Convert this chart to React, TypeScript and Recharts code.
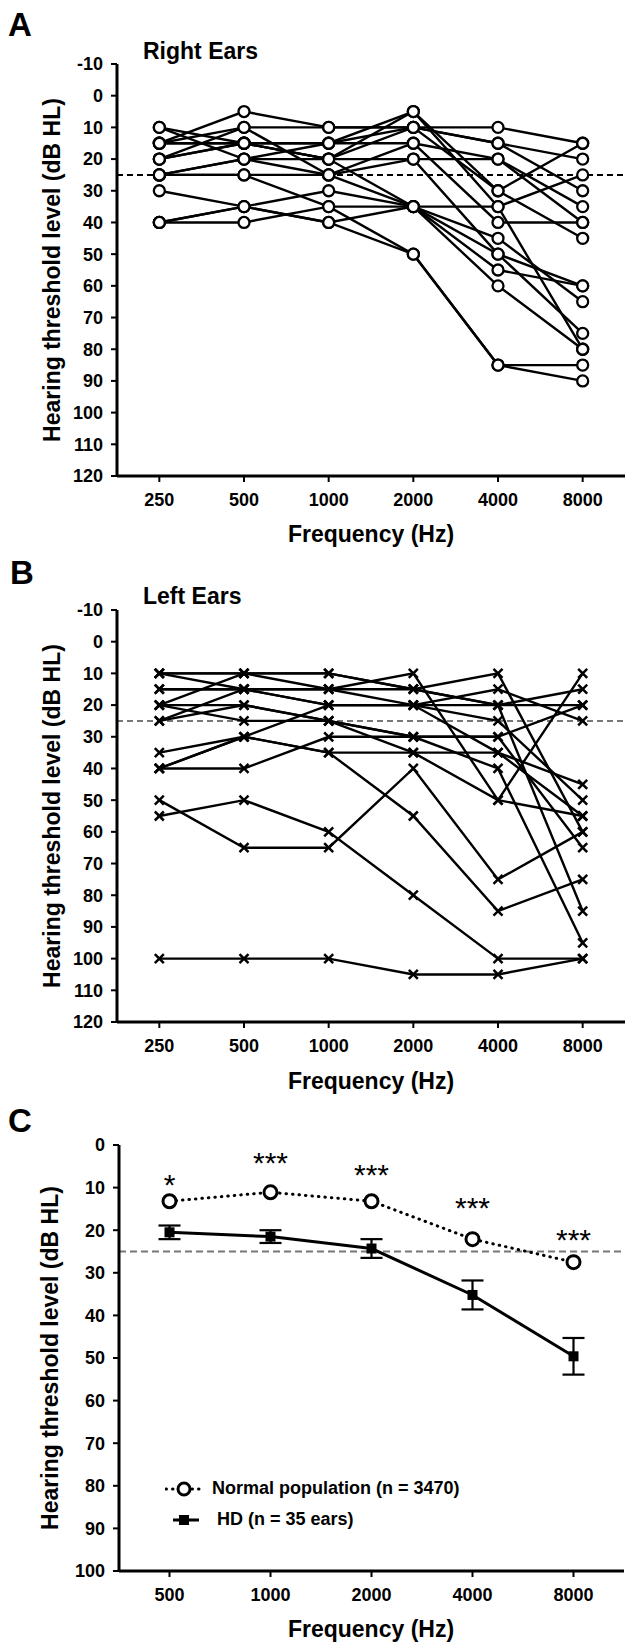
import React from "react";
import { LineChart, Line, XAxis, YAxis, ReferenceLine, ErrorBar, LabelList, Legend } from "recharts";

const FONT = '"Liberation Sans", Arial, Helvetica, sans-serif';

// panels A and B: audiogram frequencies
const freqsAB = ["250", "500", "1000", "2000", "4000", "8000"];
// panel C frequencies
const freqsC = ["500", "1000", "2000", "4000", "8000"];

// right ears, dB HL at 250..8000 Hz (one row per ear)
const rightEars = [
  [15, 5, 10, 10, 10, 15],
  [10, 15, 20, 5, 35, 80],
  [10, 20, 15, 10, 15, 20],
  [15, 15, 15, 15, 20, 40],
  [20, 10, 10, 10, 30, 15],
  [25, 25, 25, 15, 40, 40],
  [25, 20, 20, 20, 50, 60],
  [30, 35, 30, 35, 45, 65],
  [40, 35, 40, 35, 55, 60],
  [40, 40, 35, 35, 35, 25],
  [25, 25, 35, 50, 85, 85],
  [20, 15, 20, 35, 60, 80],
  [15, 10, 25, 35, 50, 75],
  [20, 15, 15, 5, 30, 45],
  [40, 35, 40, 50, 85, 90],
  [25, 20, 25, 20, 20, 35],
  [15, 15, 20, 10, 15, 30],
];

// left ears, dB HL at 250..8000 Hz
const leftEars = [
  [10, 10, 10, 15, 20, 20],
  [10, 15, 20, 20, 35, 55],
  [15, 15, 15, 10, 50, 10],
  [20, 10, 10, 15, 10, 60],
  [20, 25, 25, 30, 30, 20],
  [25, 15, 15, 20, 15, 25],
  [25, 20, 25, 30, 40, 95],
  [35, 30, 20, 20, 20, 15],
  [40, 30, 35, 35, 35, 45],
  [40, 40, 30, 30, 30, 65],
  [50, 65, 65, 40, 75, 60],
  [55, 50, 60, 80, 100, 100],
  [100, 100, 100, 105, 105, 100],
  [15, 15, 20, 20, 25, 50],
  [40, 30, 35, 55, 85, 75],
  [20, 20, 25, 35, 50, 55],
  [10, 10, 15, 15, 20, 85],
];

// panel C
const normalPop = [13.2, 11.1, 13.2, 22.1, 27.5];
const hdMean = [20.5, 21.5, 24.3, 35.2, 49.6];
const hdSem = [1.6, 1.5, 2.2, 3.4, 4.3];
const sigMarks = ["*", "***", "***", "***", "***"];
const sigLevel = [7.7, 2.6, 5.4, 13.1, 20.6];

const yTicksAB = [-10, 0, 10, 20, 30, 40, 50, 60, 70, 80, 90, 100, 110, 120];
const yTicksC = [0, 10, 20, 30, 40, 50, 60, 70, 80, 90, 100];

const tickFont = { fill: "#000", fontSize: 18, fontWeight: "bold", fontFamily: FONT };
const axisLine = { stroke: "#000", strokeWidth: 3 };
const tickLine = { stroke: "#000", strokeWidth: 2 };

function earsTable(ears: number[][]) {
  return freqsAB.map((f, i) => {
    const row: Record<string, number | string> = { idx: i, freq: f };
    ears.forEach((e, k) => {
      row[`e${k}`] = e[i];
    });
    return row;
  });
}

const circleDot = (p: any) => {
  const key = `c-${p.dataKey}-${p.index}`;
  if (p.cx == null || p.cy == null) return <g key={key} />;
  return <circle key={key} cx={p.cx} cy={p.cy} r={5.5} fill="#fff" stroke="#000" strokeWidth={2.3} />;
};

const crossDot = (p: any) => {
  const key = `x-${p.dataKey}-${p.index}`;
  if (p.cx == null || p.cy == null) return <g key={key} />;
  const s = 4.5;
  return (
    <g key={key} stroke="#000" strokeWidth={2.5}>
      <line x1={p.cx - s} y1={p.cy - s} x2={p.cx + s} y2={p.cy + s} />
      <line x1={p.cx - s} y1={p.cy + s} x2={p.cx + s} y2={p.cy - s} />
    </g>
  );
};

const squareDot = (p: any) => {
  const key = `s-${p.index}`;
  if (p.cx == null || p.cy == null) return <g key={key} />;
  return <rect key={key} x={p.cx - 5} y={p.cy - 5} width={10} height={10} fill="#000" />;
};

const renderSig = (p: any) => {
  if (p.x == null || p.y == null) return null;
  return (
    <text x={p.x} y={p.y + 17} textAnchor="middle" fontSize={30} fontFamily={FONT} fill="#000">
      {p.value}
    </text>
  );
};

function EarPanel({ ears, dot, refStroke }: { ears: number[][]; dot: (p: any) => React.ReactElement; refStroke: string }) {
  const data = earsTable(ears);
  return (
    <LineChart width={626} height={545} data={data} margin={{ top: 64, right: 1, bottom: 0, left: 0 }}>
      <XAxis
        type="number"
        dataKey="idx"
        domain={[-0.5, 5.5]}
        ticks={[0, 1, 2, 3, 4, 5]}
        tickFormatter={(v: number) => freqsAB[v]}
        height={69}
        axisLine={axisLine}
        tickLine={tickLine}
        tickSize={6}
        tickMargin={11}
        tick={tickFont}
      />
      <YAxis
        type="number"
        domain={[-10, 120]}
        reversed
        ticks={yTicksAB}
        interval={0}
        width={117}
        axisLine={axisLine}
        tickLine={tickLine}
        tickSize={6}
        tickMargin={8}
        tick={tickFont}
      />
      <ReferenceLine y={25} stroke={refStroke} strokeWidth={2} strokeDasharray="6 4" />
      {ears.map((_, k) => (
        <Line
          key={`l${k}`}
          type="linear"
          dataKey={`e${k}`}
          stroke="#000"
          strokeWidth={2.4}
          dot={false}
          activeDot={false}
          isAnimationActive={false}
        />
      ))}
      {ears.map((_, k) => (
        <Line
          key={`d${k}`}
          type="linear"
          dataKey={`e${k}`}
          stroke="none"
          dot={dot}
          activeDot={false}
          isAnimationActive={false}
        />
      ))}
    </LineChart>
  );
}

const renderLegend = () => (
  <div style={{ fontFamily: FONT, fontSize: 18, fontWeight: "bold", color: "#000" }}>
    <div style={{ display: "flex", alignItems: "center", height: 31 }}>
      <svg width={47} height={20}>
        <line x1={1} y1={10} x2={38} y2={10} stroke="#000" strokeWidth={3} strokeDasharray="0.5 6" strokeLinecap="round" />
        <circle cx={19} cy={10} r={6} fill="#fff" stroke="#000" strokeWidth={3} />
      </svg>
      <span>Normal population (n = 3470)</span>
    </div>
    <div style={{ display: "flex", alignItems: "center", height: 31 }}>
      <svg width={52} height={20}>
        <line x1={8} y1={10} x2={34} y2={10} stroke="#000" strokeWidth={3} />
        <rect x={14} y={5} width={10} height={10} fill="#000" />
      </svg>
      <span>HD (n = 35 ears)</span>
    </div>
  </div>
);

function MeanPanel() {
  const data = freqsC.map((f, i) => ({
    idx: i,
    freq: f,
    normal: normalPop[i],
    hd: hdMean[i],
    hdErr: hdSem[i],
    sig: sigLevel[i],
    sigText: sigMarks[i],
  }));
  return (
    <LineChart width={626} height={554} data={data} margin={{ top: 55, right: 2, bottom: 0, left: 0 }}>
      <XAxis
        type="number"
        dataKey="idx"
        domain={[-0.5, 4.5]}
        ticks={[0, 1, 2, 3, 4]}
        tickFormatter={(v: number) => freqsC[v]}
        height={73}
        axisLine={axisLine}
        tickLine={tickLine}
        tickSize={6}
        tickMargin={11}
        tick={tickFont}
      />
      <YAxis
        type="number"
        domain={[0, 100]}
        reversed
        ticks={yTicksC}
        interval={0}
        width={119}
        axisLine={axisLine}
        tickLine={tickLine}
        tickSize={6}
        tickMargin={8}
        tick={tickFont}
      />
      <ReferenceLine y={25} stroke="#777" strokeWidth={2} strokeDasharray="7 4" />
      <Line
        type="linear"
        dataKey="hd"
        stroke="#000"
        strokeWidth={3}
        dot={squareDot}
        activeDot={false}
        isAnimationActive={false}
      >
        <ErrorBar dataKey="hdErr" width={11} stroke="#000" strokeWidth={2.2} direction="y" />
      </Line>
      <Line
        type="linear"
        dataKey="normal"
        stroke="#000"
        strokeWidth={3}
        strokeDasharray="0.5 6"
        strokeLinecap="round"
        dot={{ r: 6.5, fill: "#fff", stroke: "#000", strokeWidth: 3, strokeDasharray: "none" }}
        activeDot={false}
        isAnimationActive={false}
      />
      <Line type="linear" dataKey="sig" stroke="none" dot={false} activeDot={false} isAnimationActive={false}>
        <LabelList dataKey="sigText" content={renderSig} />
      </Line>
      <Legend
        layout="vertical"
        align="center"
        verticalAlign="middle"
        content={renderLegend}
        wrapperStyle={{ left: 165, top: 383, width: 330 }}
      />
    </LineChart>
  );
}

export default function App() {
  const titleStyle = { fontFamily: FONT, fontWeight: "bold" as const, fill: "#000" };
  return (
    <div style={{ position: "absolute", left: 0, top: 0, width: 626, height: 1644, background: "#fff" }}>
      <div style={{ position: "absolute", left: 0, top: 0 }}>
        <EarPanel ears={rightEars} dot={circleDot} refStroke="#000" />
      </div>
      <div style={{ position: "absolute", left: 0, top: 546 }}>
        <EarPanel ears={leftEars} dot={crossDot} refStroke="#777" />
      </div>
      <div style={{ position: "absolute", left: 0, top: 1090 }}>
        <MeanPanel />
      </div>
      <svg width={626} height={1644} style={{ position: "absolute", left: 0, top: 0, pointerEvents: "none" }}>
        <text x={8} y={36} fontSize={33} {...titleStyle}>A</text>
        <text x={143} y={59} fontSize={23} {...titleStyle}>Right Ears</text>
        <text x={10} y={584} fontSize={33} {...titleStyle}>B</text>
        <text x={143} y={604} fontSize={23} {...titleStyle}>Left Ears</text>
        <text x={8} y={1132} fontSize={33} {...titleStyle}>C</text>

        <text x={52} y={270} fontSize={23} textAnchor="middle" dominantBaseline="central" transform="rotate(-90 52 270)" {...titleStyle}>
          Hearing threshold level (dB HL)
        </text>
        <text x={52} y={816} fontSize={23} textAnchor="middle" dominantBaseline="central" transform="rotate(-90 52 816)" {...titleStyle}>
          Hearing threshold level (dB HL)
        </text>
        <text x={50} y={1358} fontSize={23} textAnchor="middle" dominantBaseline="central" transform="rotate(-90 50 1358)" {...titleStyle}>
          Hearing threshold level (dB HL)
        </text>

        <text x={371} y={534} fontSize={23} textAnchor="middle" dominantBaseline="central" {...titleStyle}>Frequency (Hz)</text>
        <text x={371} y={1081} fontSize={23} textAnchor="middle" dominantBaseline="central" {...titleStyle}>Frequency (Hz)</text>
        <text x={371} y={1629} fontSize={23} textAnchor="middle" dominantBaseline="central" {...titleStyle}>Frequency (Hz)</text>
      </svg>
    </div>
  );
}
